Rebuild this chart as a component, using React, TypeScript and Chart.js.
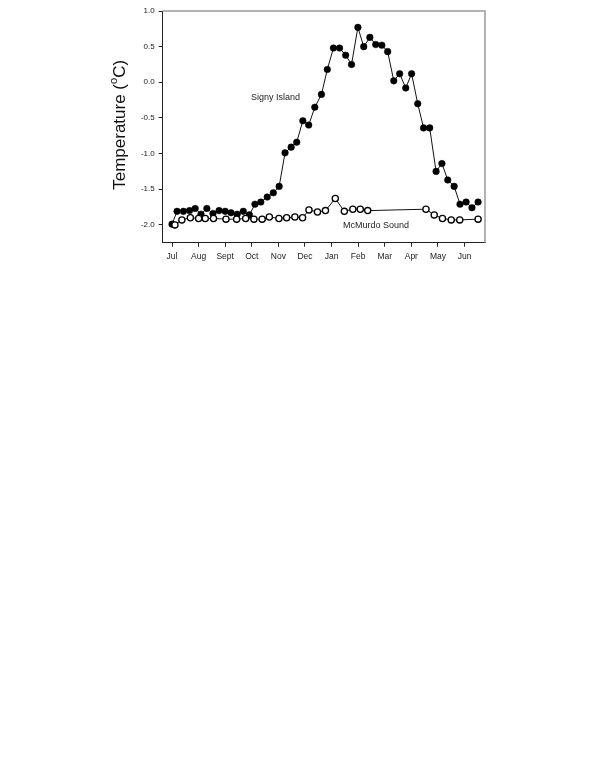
import React, { useEffect, useRef } from "react";
import { Chart, registerables } from "chart.js";

Chart.register(...registerables);

// Month ticks (0 = start of July)
const monthLabels = ["Jul", "Aug", "Sept", "Oct", "Nov", "Dec", "Jan", "Feb", "Mar", "Apr", "May", "Jun"];
const yTicks = [-2.0, -1.5, -1.0, -0.5, 0.0, 0.5, 1.0];

// Signy Island (filled circles), x in months since 1 July
const signyX = [0.0, 0.19, 0.43, 0.66, 0.87, 1.09, 1.31, 1.54, 1.77, 2.0, 2.22, 2.45, 2.68, 2.91, 3.12, 3.34, 3.58, 3.81, 4.03, 4.25, 4.48, 4.69, 4.92, 5.14, 5.37, 5.62, 5.84, 6.07, 6.3, 6.53, 6.75, 6.99, 7.21, 7.44, 7.66, 7.89, 8.11, 8.34, 8.56, 8.79, 9.01, 9.24, 9.46, 9.69, 9.93, 10.15, 10.37, 10.61, 10.83, 11.06, 11.28, 11.51];
const signyY = [-1.99, -1.81, -1.81, -1.8, -1.77, -1.85, -1.77, -1.84, -1.8, -1.81, -1.83, -1.85, -1.81, -1.86, -1.71, -1.68, -1.61, -1.55, -1.46, -0.99, -0.91, -0.84, -0.54, -0.6, -0.35, -0.17, 0.18, 0.48, 0.48, 0.38, 0.25, 0.77, 0.5, 0.63, 0.53, 0.52, 0.43, 0.02, 0.12, -0.08, 0.12, -0.3, -0.64, -0.64, -1.25, -1.14, -1.37, -1.46, -1.71, -1.68, -1.76, -1.68];

// McMurdo Sound (open circles)
const mcmurdoX = [0.11, 0.37, 0.69, 1.0, 1.25, 1.56, 2.03, 2.43, 2.77, 3.08, 3.39, 3.66, 4.02, 4.31, 4.62, 4.91, 5.15, 5.47, 5.77, 6.14, 6.48, 6.8, 7.08, 7.36, 9.55, 9.86, 10.17, 10.5, 10.82, 11.51];
const mcmurdoY = [-2.0, -1.93, -1.9, -1.91, -1.91, -1.91, -1.92, -1.92, -1.91, -1.92, -1.92, -1.89, -1.91, -1.9, -1.89, -1.9, -1.79, -1.82, -1.8, -1.63, -1.81, -1.78, -1.78, -1.8, -1.78, -1.86, -1.91, -1.93, -1.93, -1.92];

// In-plot labels (data coordinates of left edge / vertical centre)
const signyLabel = { text: "Signy Island", x: 2.97, y: -0.21 };
const mcmurdoLabel = { text: "McMurdo Sound", x: 6.43, y: -2.01 };

const FONT = "'Liberation Sans', Arial, Helvetica, sans-serif";

const decorPlugin = {
  id: "decor",
  afterDraw(chart: any) {
    const ctx = chart.ctx;
    const { left, right, top, bottom } = chart.chartArea;
    const xs = chart.scales.x;
    const ys = chart.scales.y;
    ctx.save();
    // top and right frame (grey)
    ctx.strokeStyle = "#9a9a9a";
    ctx.lineWidth = 1.5;
    ctx.beginPath();
    ctx.moveTo(left, top);
    ctx.lineTo(right, top);
    ctx.lineTo(right, bottom);
    ctx.stroke();

    // in-plot labels
    ctx.fillStyle = "#222";
    ctx.font = `9px ${FONT}`;
    ctx.textBaseline = "middle";
    ctx.textAlign = "left";
    for (const l of [signyLabel, mcmurdoLabel]) {
      ctx.fillText(l.text, xs.getPixelForValue(l.x), ys.getPixelForValue(l.y));
    }

    // y-axis title with superscript
    const big = `17px ${FONT}`;
    const small = `11px ${FONT}`;
    const p1 = "Temperature (";
    const p2 = "o";
    const p3 = "C)";
    ctx.font = big;
    const w1 = ctx.measureText(p1).width;
    const w3 = ctx.measureText(p3).width;
    ctx.font = small;
    const w2 = ctx.measureText(p2).width;
    const total = w1 + w2 + w3;
    ctx.translate(120, (top + bottom) / 2 - 2);
    ctx.rotate(-Math.PI / 2);
    ctx.fillStyle = "#111";
    ctx.textAlign = "left";
    ctx.textBaseline = "middle";
    let cx = -total / 2;
    ctx.font = big;
    ctx.fillText(p1, cx, 0);
    cx += w1;
    ctx.font = small;
    ctx.fillText(p2, cx, -6);
    cx += w2;
    ctx.font = big;
    ctx.fillText(p3, cx, 0);
    ctx.restore();
  },
};

export default function App() {
  const ref = useRef<HTMLCanvasElement | null>(null);

  useEffect(() => {
    if (!ref.current) return;
    const chart = new Chart(ref.current, {
      type: "line",
      data: {
        datasets: [
          {
            label: "McMurdo Sound",
            data: mcmurdoX.map((x, i) => ({ x, y: mcmurdoY[i] })),
            borderColor: "#111",
            borderWidth: 1,
            pointRadius: 3.1,
            pointBorderWidth: 1.3,
            pointBackgroundColor: "#fff",
            pointBorderColor: "#000",
            tension: 0,
          },
          {
            label: "Signy Island",
            data: signyX.map((x, i) => ({ x, y: signyY[i] })),
            borderColor: "#111",
            borderWidth: 1,
            pointRadius: 3.3,
            pointBorderWidth: 0.5,
            pointBackgroundColor: "#000",
            pointBorderColor: "#000",
            tension: 0,
          },
        ],
      },
      options: {
        animation: false,
        responsive: false,
        maintainAspectRatio: false,
        layout: { padding: { left: 117.7, top: 11, right: 115, bottom: 17.3 } },
        plugins: { legend: { display: false }, tooltip: { enabled: false } },
        scales: {
          x: {
            type: "linear",
            min: -0.35,
            max: 11.77,
            afterBuildTicks: (s: any) => {
              s.ticks = monthLabels.map((_, i) => ({ value: i }));
            },
            afterFit: (s: any) => {
              s.height = 30;
            },
            grid: { drawOnChartArea: false, drawTicks: true, tickLength: 4, color: "#222" },
            border: { display: true, color: "#222", width: 1 },
            ticks: {
              autoSkip: false,
              maxRotation: 0,
              padding: 5,
              color: "#222",
              font: { family: FONT, size: 8.5 },
              callback: (v: any) => monthLabels[v] ?? "",
            },
          },
          y: {
            type: "linear",
            min: -2.25,
            max: 1.0,
            afterBuildTicks: (s: any) => {
              s.ticks = yTicks.map((v) => ({ value: v }));
            },
            afterFit: (s: any) => {
              s.width = 45;
            },
            grid: { drawOnChartArea: false, drawTicks: true, tickLength: 4, color: "#222" },
            border: { display: true, color: "#222", width: 1 },
            ticks: {
              padding: 4,
              color: "#222",
              font: { family: FONT, size: 8 },
              callback: (v: any) => Number(v).toFixed(1),
            },
          },
        },
      },
      plugins: [decorPlugin],
    });
    return () => chart.destroy();
  }, []);

  return (
    <div style={{ position: "absolute", left: 0, top: 0, width: 600, height: 290 }}>
      <canvas ref={ref} width={600} height={290} style={{ width: 600, height: 290 }} />
    </div>
  );
}
